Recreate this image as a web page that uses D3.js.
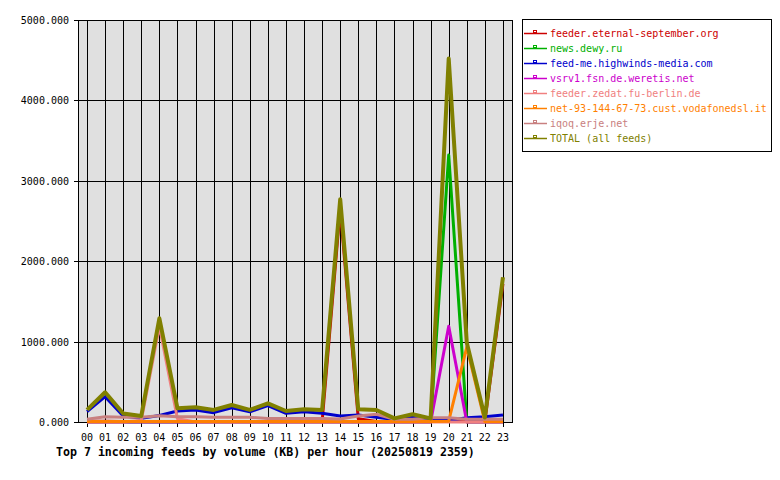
<!DOCTYPE html>
<html>
<head>
<meta charset="utf-8">
<script src="https://cdn.jsdelivr.net/npm/d3@7"></script>
<style>
body { margin:0; background:#fff; }
text { font-family:"DejaVu Sans Mono", monospace; }
</style>
</head>
<body>
<svg id="chart" width="780" height="480"></svg>
<script>
// hours on the x axis
var hours = ["00","01","02","03","04","05","06","07","08","09","10","11","12","13","14","15","16","17","18","19","20","21","22","23"];
var yTicks = [0,1000,2000,3000,4000,5000];

// per-feed KB per hour
var eternal = [10,10,5,5,5,5,5,5,5,5,5,5,5,5,2650,40,5,5,5,5,5,5,5,1720];
var dewy    = [0,0,0,0,0,0,0,0,0,0,0,0,0,0,0,0,0,0,0,0,3320,0,0,0];
var highwinds = [130,315,75,45,80,137,150,116,178,128,203,108,128,108,75,87,58,30,66,30,20,53,66,87];
var weretis = [0,0,0,0,0,0,0,0,0,0,0,0,0,0,0,0,0,0,0,0,1190,0,0,0];
var zedat   = [0,0,0,20,1190,40,0,0,0,0,0,0,0,0,0,0,0,0,0,0,0,0,0,0];
var vodafone = [5,5,5,5,5,5,5,5,5,5,5,5,5,5,5,5,5,5,5,5,10,930,5,5];
var erje    = [33,66,58,58,78,66,66,58,58,58,45,45,45,45,37,75,96,33,33,53,53,33,33,33];
var total   = [150,370,105,75,1290,170,183,150,211,150,232,137,160,150,2770,158,150,45,96,45,4520,985,55,1800];

var seriesNames = ["feeder.eternal-september.org","news.dewy.ru","feed-me.highwinds-media.com","vsrv1.fsn.de.weretis.net","feeder.zedat.fu-berlin.de","net-93-144-67-73.cust.vodafonedsl.it","iqoq.erje.net","TOTAL (all feeds)"];
var seriesData = [eternal, dewy, highwinds, weretis, zedat, vodafone, erje, total];
var seriesColors = ["#cc0000","#00b000","#0000cc","#cc00cc","#f08080","#ff8000","#c88080","#808000"];

(function(){
	var svg = d3.select("#chart");
	var left = 78, right = 512, plotTop = 20, bottom = 422;

	var x = d3.scalePoint().domain(hours).range([left, right]).padding(0.5);
	var y = d3.scaleLinear().domain([0, 5000]).range([bottom, plotTop]);

	//plot background
	svg.append("rect")
		.attr("x", left+0.5).attr("y", plotTop+0.5)
		.attr("width", right-left).attr("height", bottom-plotTop)
		.attr("fill", "#e0e0e0");

	//grid
	var grid = svg.append("g").attr("stroke", "#000").attr("stroke-width", 1);
	grid.selectAll("line.v").data(hours).enter().append("line")
		.attr("x1", function(d){ return Math.round(x(d))+0.5; })
		.attr("x2", function(d){ return Math.round(x(d))+0.5; })
		.attr("y1", plotTop).attr("y2", bottom+5);
	grid.selectAll("line.h").data(yTicks).enter().append("line")
		.attr("x1", left-4).attr("x2", right)
		.attr("y1", function(d){ return Math.round(y(d))+0.5; })
		.attr("y2", function(d){ return Math.round(y(d))+0.5; });

	svg.append("rect")
		.attr("x", left+0.5).attr("y", plotTop+0.5)
		.attr("width", right-left).attr("height", bottom-plotTop)
		.attr("fill", "none").attr("stroke", "#000");

	//axis labels
	svg.append("g").selectAll("text").data(yTicks).enter().append("text")
		.attr("x", 69).attr("y", function(d){ return y(d)+4; })
		.attr("text-anchor", "end").attr("font-size", "10px")
		.text(function(d){ return d3.format(".3f")(d); });

	svg.append("g").selectAll("text").data(hours).enter().append("text")
		.attr("x", function(d){ return x(d); }).attr("y", 441)
		.attr("text-anchor", "middle").attr("font-size", "10px")
		.text(function(d){ return d; });

	//series lines, total drawn last
	var line = d3.line()
		.x(function(d,i){ return x(hours[i]); })
		.y(function(d){ return y(d); });

	seriesData.forEach(function(vals, i) {
		svg.append("path")
			.attr("d", line(vals))
			.attr("fill", "none")
			.attr("stroke", seriesColors[i])
			.attr("stroke-width", i == 7 ? 4 : 3)
			.attr("stroke-linejoin", "round");
	});

	//legend
	var lg = svg.append("g");
	lg.append("rect")
		.attr("x", 522.5).attr("y", 19.5).attr("width", 249).attr("height", 132)
		.attr("fill", "#fff").attr("stroke", "#000");
	seriesNames.forEach(function(name, i) {
		var ly = 33 + i*15;
		lg.append("line")
			.attr("x1", 524).attr("x2", 547)
			.attr("y1", ly+0.5).attr("y2", ly+0.5)
			.attr("stroke", seriesColors[i]).attr("stroke-width", 1.5);
		lg.append("rect")
			.attr("x", 533.5).attr("y", ly-2.5).attr("width", 3).attr("height", 2)
			.attr("fill", "none").attr("stroke", seriesColors[i]);
		lg.append("text")
			.attr("x", 550).attr("y", ly+4)
			.attr("font-size", "10px")
			.attr("fill", seriesColors[i])
			.text(name);
	});

	//title
	svg.append("text")
		.attr("x", 56).attr("y", 456)
		.attr("font-size", "11.6px").attr("font-weight", "bold")
		.text("Top 7 incoming feeds by volume (KB) per hour (20250819 2359)");
})();
</script>
</body>
</html>
